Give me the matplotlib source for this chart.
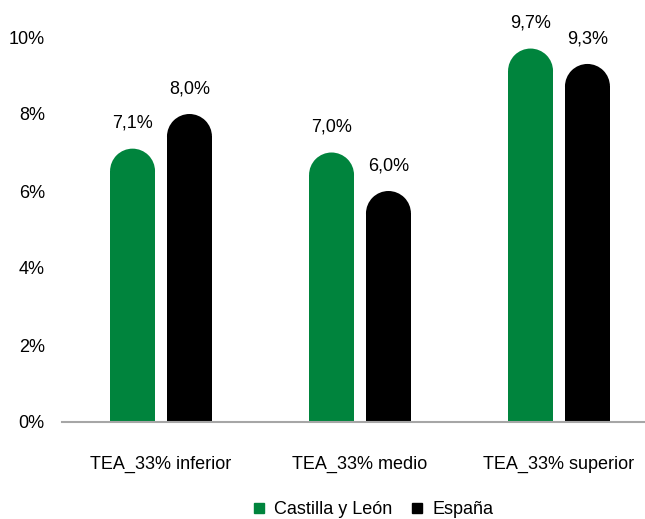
import matplotlib.pyplot as plt
from matplotlib.patches import Rectangle, Ellipse
from matplotlib.lines import Line2D

plt.rcParams['font.family'] = ['Liberation Sans', 'DejaVu Sans']

categories = ["TEA_33% inferior", "TEA_33% medio", "TEA_33% superior"]
castilla = [7.1, 7.0, 9.7]
espana = [8.0, 6.0, 9.3]
series_names = ["Castilla y León", "España"]

green = '#00843D'
black = '#000000'

fig = plt.figure(figsize=(6.45, 5.19), dpi=100)
# axes extends slightly past the right edge, like the original
ax = fig.add_axes([61.5 / 645, 97 / 519, 597 / 645, 385 / 519])
ax.set_xlim(-0.5, 2.5)
ax.set_ylim(0, 10)

width = 0.226
offset = 0.143
# radius of the rounded top in data units (half bar width in pixels)
px_per_x = 597 / 3.0
px_per_y = 385 / 10.0
r_px = width * px_per_x / 2
r_y = r_px / px_per_y

def rounded_bar(x, h, color):
    ax.add_patch(Rectangle((x - width / 2, 0), width, h - r_y, color=color, lw=0))
    ax.add_patch(Ellipse((x, h - r_y), width, 2 * r_y, color=color, lw=0))

for i, cat in enumerate(categories):
    for val, sign, col in [(castilla[i], -1, green), (espana[i], 1, black)]:
        x = i + sign * offset
        rounded_bar(x, val, col)
        ax.annotate(f"{val:.1f}%".replace('.', ','), (x, val), xytext=(0, 12),
                    textcoords='offset points', ha='center', va='bottom', fontsize=13)

ax.set_xticks(range(len(categories)))
ax.set_xticklabels(categories, fontsize=13)
ax.set_yticks([0, 2, 4, 6, 8, 10])
ax.set_yticklabels([f"{v}%" for v in [0, 2, 4, 6, 8, 10]], fontsize=13)
ax.tick_params(axis='both', length=0)
ax.tick_params(axis='x', pad=24)
ax.tick_params(axis='y', pad=12)
for s in ['left', 'right', 'top']:
    ax.spines[s].set_visible(False)
ax.spines['bottom'].set_color('#A6A6A6')
ax.spines['bottom'].set_linewidth(1.5)

handles = [Line2D([], [], marker='s', linestyle='none', color=green, markersize=7),
           Line2D([], [], marker='s', linestyle='none', color=black, markersize=7)]
fig.legend(handles, series_names, loc='center', bbox_to_anchor=(373 / 645, 9 / 519),
           ncol=2, frameon=False, fontsize=13, handlelength=0.7,
           handletextpad=0.48, columnspacing=1.05)

fig.savefig('out.png', dpi=100)
